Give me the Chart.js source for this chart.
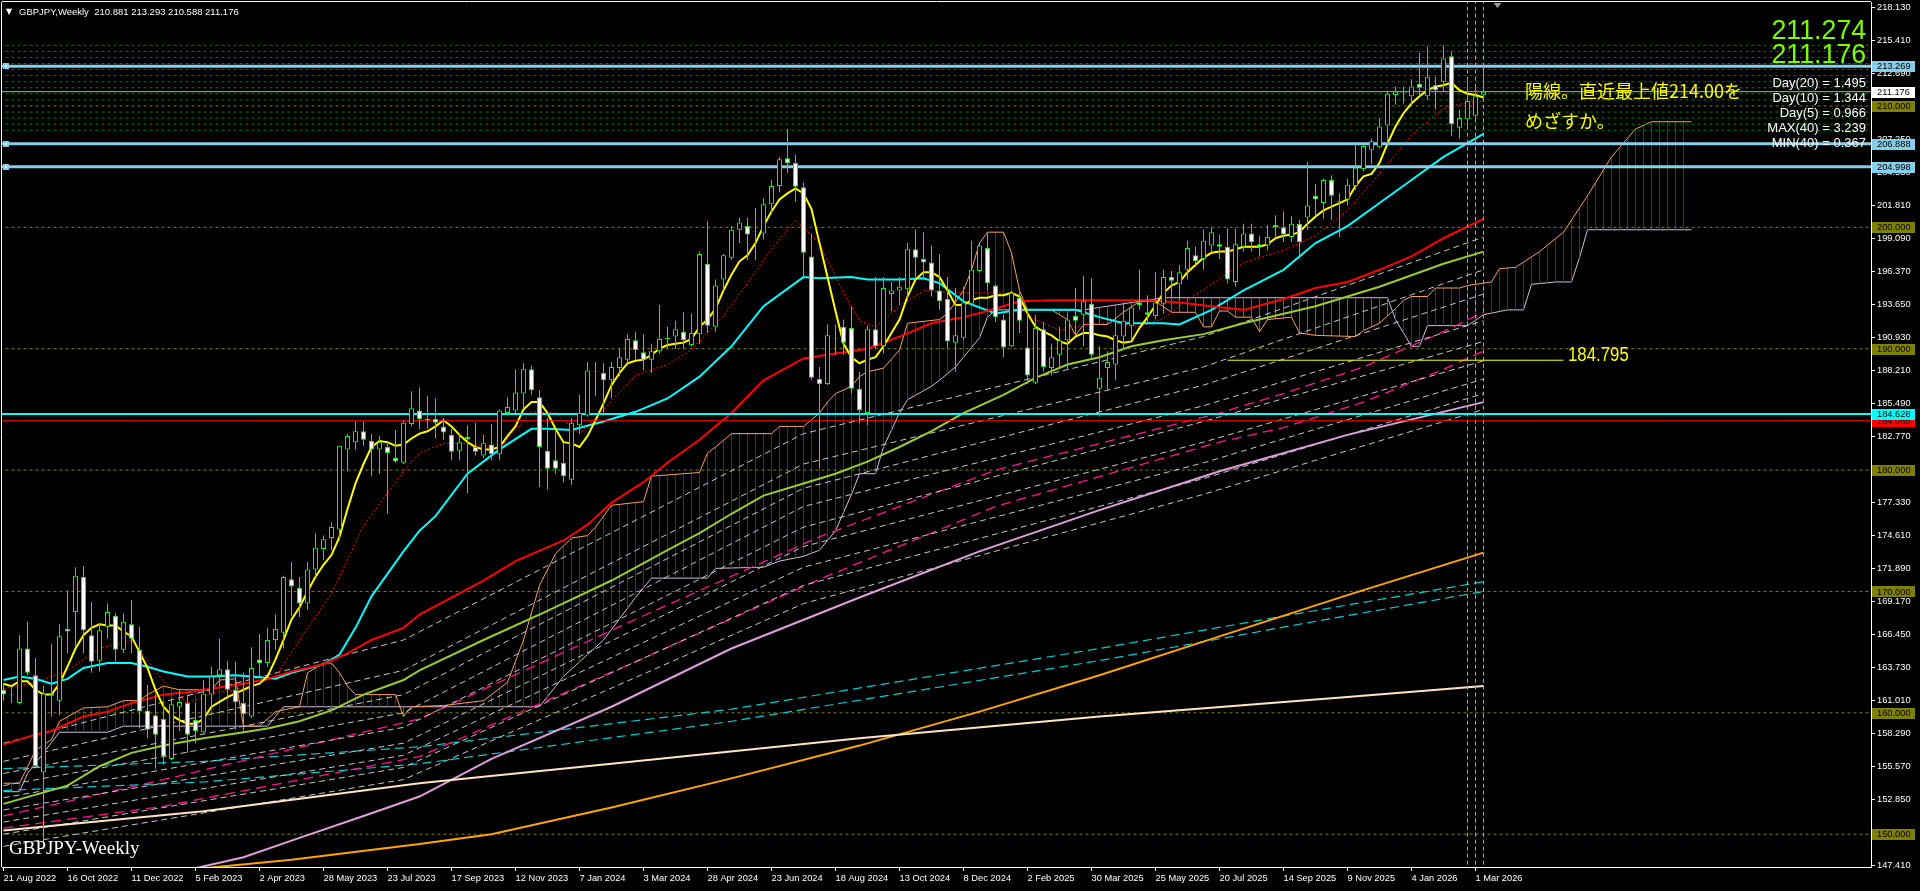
<!DOCTYPE html>
<html><head><meta charset="utf-8">
<script src="https://cdn.jsdelivr.net/npm/chart.js@4.4.0/dist/chart.umd.min.js"></script>
<style>
html,body{margin:0;padding:0;background:#000;width:1920px;height:891px;overflow:hidden;}
#wrap{position:relative;width:1920px;height:891px;}
canvas{position:absolute;left:0;top:0;}
.t{position:absolute;white-space:pre;font-family:"Liberation Sans",Arial,sans-serif;}
</style></head><body>
<div id="wrap">
<canvas id="c" width="1920" height="891"></canvas>
<div class="t" style="left:6px;top:6px;font-size:8px;line-height:11px;color:#fff;font-family:'DejaVu Sans';">▼</div>
<div class="t" style="left:19px;top:6px;font-size:9.5px;line-height:11px;color:#fff;">GBPJPY,Weekly  210.881 213.293 210.588 211.176</div>
<div class="t" style="right:54px;top:16px;font-size:28px;line-height:28px;color:#7cfc00;transform:scaleX(0.955);transform-origin:right;">211.274</div>
<div class="t" style="right:54px;top:40px;font-size:28px;line-height:28px;color:#7cfc00;transform:scaleX(0.955);transform-origin:right;">211.176</div>
<div class="t" style="right:54px;top:75px;font-size:13px;line-height:15px;color:#fff;text-align:right;">Day(20) = 1.495</div>
<div class="t" style="right:54px;top:90px;font-size:13px;line-height:15px;color:#fff;text-align:right;">Day(10) = 1.344</div>
<div class="t" style="right:54px;top:105px;font-size:13px;line-height:15px;color:#fff;text-align:right;">Day(5) = 0.966</div>
<div class="t" style="right:54px;top:120px;font-size:13px;line-height:15px;color:#fff;text-align:right;">MAX(40) = 3.239</div>
<div class="t" style="right:54px;top:135px;font-size:13px;line-height:15px;color:#fff;text-align:right;">MIN(40) = 0.367</div>
<div class="t" style="left:1525px;top:81px;font-size:18px;line-height:18px;color:#ffff00;font-family:'Noto Sans CJK JP';">陽線。直近最上値214.00を</div>
<div class="t" style="left:1525px;top:111px;font-size:18px;line-height:18px;color:#ffff00;font-family:'Noto Sans CJK JP';">めざすか。</div>
<div class="t" style="left:1568px;top:344px;font-size:20px;line-height:20px;color:#ffff00;transform:scaleX(0.84);transform-origin:left;">184.795</div>
<div class="t" style="left:9px;top:838px;font-size:19px;line-height:20px;color:#fff;font-family:'Liberation Serif',serif;">GBPJPY-Weekly</div>
</div>
<script>
// ---------------- DATA ----------------
const xTickBars = [0,8,16,24,32,40,48,56,64,72,80,88,96,104,112,120,128,136,144,152,160,168,176,184];
const xTickLabels = ['21 Aug 2022','16 Oct 2022','11 Dec 2022','5 Feb 2023','2 Apr 2023','28 May 2023','23 Jul 2023','17 Sep 2023','12 Nov 2023','7 Jan 2024','3 Mar 2024','28 Apr 2024','23 Jun 2024','18 Aug 2024','13 Oct 2024','8 Dec 2024','2 Feb 2025','30 Mar 2025','25 May 2025','20 Jul 2025','14 Sep 2025','9 Nov 2025','4 Jan 2026','1 Mar 2026'];
const yTicks = [218.13,215.41,212.69,209.97,207.25,204.53,201.81,199.09,196.37,193.65,190.93,188.21,185.49,182.77,180.05,177.33,174.61,171.89,169.17,166.45,163.73,161.01,158.29,155.57,152.85,150.13,147.41];

const opens = [
161.9,161.5,160.8,165.3,163.1,155.1,161.6,161.0,166.9,168.3,
171.2,166.4,164.3,167.1,168.0,165.2,167.3,165.2,160.2,159.8,
159.5,156.2,160.5,160.8,159.4,158.4,161.5,163.1,163.6,161.9,
160.8,159.7,164.4,164.1,166.0,166.6,171.0,170.3,169.0,171.8,
173.5,174.4,175.1,181.7,182.3,183.2,182.4,181.7,181.9,181.0,
180.6,183.8,184.9,184.2,184.2,183.6,182.9,181.6,182.75,181.9,
181.2,182.1,181.3,184.7,184.9,186.3,188.3,186.0,181.6,180.8,
180.6,179.2,183.7,184.5,188.1,188.0,187.4,188.4,189.1,190.7,
189.7,189.1,189.8,190.8,191.0,191.4,190.3,191.2,197.0,191.8,
195.7,197.5,199.8,200.1,199.6,199.5,201.9,203.4,205.7,205.3,
203.3,197.6,187.5,187.1,190.8,191.8,191.7,186.7,184.7,191.6,
190.2,194.5,194.8,194.9,198.2,197.4,197.1,194.8,194.1,190.5,
190.9,193.7,196.4,198.3,195.2,192.4,190.2,194.2,190.1,187.2,
191.6,188.4,189.5,190.7,192.7,192.8,193.7,186.7,188.4,188.7,
191.0,191.9,193.8,193.0,192.7,193.7,195.9,195.3,196.5,197.7,
197.4,198.5,198.6,198.4,195.5,198.4,199.5,198.6,198.5,200.2,
200.0,199.2,200.3,200.8,202.6,202.0,203.9,202.2,202.3,203.4,
204.8,206.4,206.6,208.4,210.9,211.1,210.8,211.8,210.8,211.7,
212.0,214.1,208.2,208.9,209.2,210.881];
const highs = [
162.4,162.2,166.4,167.5,164.5,162.2,165.7,167.3,170.1,172.0,
172.1,169.1,167.4,169.0,168.2,168.2,169.3,167.1,162.3,161.5,
160.8,161.2,161.9,161.5,160.8,162.7,163.8,166.1,164.3,164.2,
163.3,165.4,166.5,167.0,168.1,171.3,172.4,171.2,172.4,174.8,
174.6,175.7,182.0,183.0,184.0,184.0,183.0,182.8,182.3,183.3,
184.1,186.5,186.8,186.1,185.9,184.3,183.4,183.0,183.7,183.9,
182.9,183.8,185.0,186.0,188.3,188.8,188.6,186.6,184.3,183.3,
182.2,184.3,186.2,188.9,188.9,188.8,188.9,190.0,191.2,191.4,
191.2,190.4,193.6,191.8,192.3,193.0,192.9,198.0,200.5,195.7,
197.8,200.1,200.8,200.8,201.6,202.4,203.9,205.8,208.1,206.0,
203.7,199.5,188.5,192.0,192.0,192.4,193.5,188.1,191.9,195.9,
195.9,195.5,195.9,198.7,199.8,199.6,198.5,197.8,195.9,195.0,
195.1,198.9,198.8,199.5,195.3,192.8,194.8,194.6,193.0,192.8,
192.2,190.4,191.8,192.9,195.0,196.0,195.8,190.2,189.8,192.5,
193.8,193.5,196.5,194.4,196.3,196.5,196.4,196.9,198.9,198.4,
199.8,200.0,199.4,199.9,199.9,200.3,200.3,199.3,200.2,201.0,
201.3,200.9,200.6,205.4,203.6,204.0,204.3,202.8,204.0,206.9,
206.8,207.3,209.0,211.2,211.6,211.6,212.2,214.4,214.9,212.4,
215.0,214.5,209.7,212.1,211.7,213.293];
const lows = [
161.0,160.8,160.7,163.1,155.5,148.8,159.7,159.8,164.9,165.5,
164.9,163.3,163.4,166.1,164.2,164.9,164.9,158.7,157.9,155.4,
155.7,156.1,158.5,156.7,157.5,158.3,160.5,162.2,161.3,158.6,
158.3,159.6,163.0,163.8,165.2,165.3,168.0,167.9,168.5,171.2,
172.6,173.4,174.2,179.9,181.7,182.0,179.5,179.7,176.4,180.6,
180.5,183.6,183.4,183.4,182.6,182.5,180.8,180.8,178.1,181.2,
181.0,180.8,180.8,184.5,184.7,185.0,186.2,178.6,178.4,179.7,
179.0,178.8,183.0,184.4,186.1,184.5,185.9,187.7,188.8,189.1,
188.2,188.0,189.6,190.0,190.0,190.0,190.2,190.4,191.3,191.4,
194.8,197.3,198.7,197.3,197.3,199.0,201.2,202.9,204.5,202.1,
195.9,187.4,180.1,187.0,189.5,189.5,186.3,183.9,183.7,190.0,
189.6,193.1,193.6,194.0,195.9,195.7,194.3,193.2,190.0,188.1,
190.7,193.6,196.3,194.8,192.2,189.3,190.1,191.3,187.1,187.1,
188.1,187.8,188.4,188.3,191.1,190.2,189.1,184.4,186.6,187.4,
189.9,190.7,193.2,192.1,192.4,192.9,194.2,194.0,195.7,196.9,
196.5,197.9,197.4,195.4,195.1,198.0,198.0,197.6,198.1,199.1,
198.8,198.8,197.5,199.8,200.9,200.7,200.6,199.2,201.8,203.1,
204.6,205.2,206.5,206.8,210.1,210.2,210.1,210.8,210.5,209.7,
211.2,207.5,207.3,208.1,208.8,210.588];
const closes = [
161.5,161.45,165.3,163.3,155.6,161.6,161.4,166.3,166.7,171.3,
166.8,164.2,166.8,168.3,165.2,167.5,166.1,160.1,158.6,158.2,
156.4,160.7,160.9,158.2,158.5,161.6,163.0,163.6,161.9,160.9,
159.9,163.7,164.1,166.0,166.9,171.2,170.4,169.0,171.8,173.6,
174.3,175.3,182.0,182.8,183.2,182.5,181.7,182.3,181.4,180.7,
183.9,185.1,184.2,184.1,183.9,183.1,181.5,182.3,182.55,181.5,
182.2,181.3,184.9,185.2,186.4,188.3,186.6,181.9,180.1,180.1,
179.5,183.9,184.7,188.2,188.15,187.4,188.5,189.3,190.8,189.9,
189.1,189.8,190.8,190.9,191.6,190.7,191.3,197.8,191.9,195.2,
197.7,199.8,200.4,199.4,199.65,201.9,203.4,205.6,205.3,203.35,
197.9,187.6,187.1,191.1,190.85,190.5,186.7,184.9,191.6,190.2,
195.0,194.8,195.1,198.2,197.5,197.1,194.8,193.9,190.6,191.1,
193.8,196.5,198.5,195.4,192.6,190.1,194.6,192.3,187.8,191.7,
188.5,189.3,190.7,192.4,192.3,193.9,189.5,187.6,188.9,191.1,
192.3,193.4,193.6,192.8,193.8,195.9,195.6,196.3,198.3,197.2,
198.9,199.6,198.4,195.7,198.6,199.5,198.8,198.4,199.2,200.0,
199.4,200.3,198.8,201.8,202.3,203.9,202.6,202.1,203.5,204.9,
206.7,207.1,208.3,211.0,211.2,211.15,211.6,211.5,212.4,211.3,
213.9,208.5,209.0,210.4,210.8,211.176];

const maYellow = [
162.4,162.2,162.6,162.6,161.9,161.5,161.5,162.4,163.8,165.3,
166.4,167.0,167.3,167.2,167.2,166.7,166.3,165.0,163.7,161.9,
160.5,159.8,159.4,159.1,159.1,159.5,160.5,160.9,161.3,161.6,
161.9,162.2,162.4,163.0,164.4,166.0,167.7,168.7,170.0,171.2,
172.2,173.0,174.5,176.8,178.9,180.5,181.9,182.4,182.3,182.0,
182.1,182.6,183.0,183.2,183.6,184.1,183.6,182.9,182.3,181.9,
181.7,181.7,181.9,182.8,183.6,185.0,185.6,185.6,184.7,183.4,
182.3,182.2,181.9,182.8,184.1,185.5,187.0,188.0,188.8,189.0,
189.1,189.5,190.0,190.3,190.4,190.5,190.8,191.8,192.4,193.3,
194.8,196.1,197.2,197.7,198.7,200.1,201.3,202.3,202.8,203.2,
202.8,201.5,198.7,195.9,193.1,190.4,189.3,188.8,189.1,189.3,
190.2,191.3,192.4,194.3,195.7,196.3,196.3,195.9,194.8,193.6,
193.6,194.0,194.2,194.2,194.4,194.4,194.6,194.3,192.9,191.8,
191.4,191.1,190.6,190.4,191.0,191.3,191.3,191.1,191.0,190.7,
190.5,190.6,191.7,192.6,193.6,194.6,195.2,195.5,196.3,196.9,
197.5,197.9,198.0,198.0,198.2,198.4,198.4,198.4,198.6,199.1,
199.3,199.4,199.6,200.3,200.9,201.4,201.7,202.0,202.3,203.4,
204.2,204.4,205.3,206.9,208.3,209.4,210.2,210.8,211.3,211.6,
211.7,211.9,211.3,211.0,210.9,210.7];

const maRedDot = [[0,162.0],[4,162.5],[8,163.5],[12,165.3],[16,166.0],[18,164.3],[20,162.6],[23,160.8],[26,161.6],[29,161.9],[31,162.2],[34,163.0],[37,166.0],[41,169.8],[45,175.4],[50,179.9],[52,181.4],[55,182.2],[58,182.2],[62,181.8],[66,184.8],[69,184.7],[72,183.0],[75,185.0],[79,187.8],[83,188.7],[86,189.9],[90,192.7],[93,195.4],[96,198.2],[99,200.6],[102,198.7],[105,194.6],[107,192.3],[109,191.8],[112,193.5],[115,194.8],[119,194.6],[122,194.6],[125,194.6],[129,192.4],[132,191.5],[136,192.1],[139,192.1],[142,191.8],[145,192.5],[148,194.0],[151,195.3],[155,197.1],[160,198.1],[164,199.3],[168,201.4],[172,204.4],[176,207.6],[180,209.8],[183,210.3],[185,210.4]];
const maCyan = [[0,162.7],[2,163.0],[4,162.8],[6,162.4],[8,162.8],[10,163.7],[13,164.1],[16,164.1],[18,163.8],[20,163.4],[23,163.0],[26,163.0],[29,163.1],[31,163.0],[34,162.8],[36,163.3],[40,164.0],[42,164.8],[44,167.0],[46,169.6],[50,173.3],[52,175.0],[54,176.2],[58,179.7],[62,181.7],[66,183.4],[68,183.4],[71,183.3],[75,184.0],[79,184.8],[83,185.9],[87,187.7],[91,190.2],[95,193.5],[100,195.9],[102,195.8],[106,195.9],[108,195.7],[112,195.7],[115,195.8],[117,195.4],[120,193.9],[124,192.9],[127,193.2],[131,193.2],[134,193.2],[137,192.6],[140,192.1],[145,192.1],[147,192.0],[151,193.2],[155,194.8],[160,196.5],[164,198.7],[168,200.1],[172,202.0],[176,203.9],[180,205.8],[185,207.7]];
const maRed = [[0,157.4],[4,158.2],[6,158.5],[8,159.1],[10,159.7],[13,160.1],[16,160.8],[20,161.5],[23,161.7],[26,162.0],[30,162.4],[33,162.8],[36,163.4],[40,164.0],[43,164.9],[46,166.0],[50,167.0],[52,168.1],[56,169.5],[60,170.9],[64,172.5],[70,174.2],[73,175.5],[76,177.3],[80,179.0],[83,180.6],[87,182.5],[91,184.7],[95,187.4],[100,189.2],[104,189.6],[108,190.0],[112,191.0],[116,192.1],[120,192.6],[123,193.1],[127,193.9],[131,194.0],[143,194.0],[147,193.8],[151,193.5],[155,193.2],[160,194.1],[164,195.0],[168,195.5],[172,196.5],[176,197.6],[180,199.1],[185,200.7]];
const maYellowGreen = [[0,152.5],[8,154.0],[12,155.6],[16,156.7],[20,157.3],[25,157.9],[29,158.3],[33,158.7],[37,159.3],[41,160.2],[45,161.5],[50,162.7],[52,163.5],[60,166.0],[68,168.4],[76,170.9],[83,173.4],[87,174.8],[91,176.4],[95,177.9],[100,178.9],[104,179.7],[108,180.7],[112,181.9],[116,183.2],[120,184.7],[125,186.2],[129,187.6],[133,188.7],[137,189.3],[141,190.2],[145,190.7],[150,191.2],[155,192.1],[164,193.5],[172,195.1],[180,197.0],[185,198.0]];
const maPlum = [[22,146.9],[30,148.1],[37,149.7],[45,151.5],[52,153.1],[61,156.2],[76,160.5],[91,165.3],[107,169.5],[122,173.3],[137,176.7],[152,179.9],[168,182.9],[185,185.6]];
const maOrange = [[22,147.0],[36,147.9],[52,149.2],[61,150.0],[76,152.2],[91,154.6],[107,157.3],[122,160.1],[137,163.1],[152,166.3],[168,169.7],[185,173.2]];
const maBisque = [[0,150.3],[25,151.9],[52,154.2],[76,155.8],[107,157.9],[137,159.7],[168,161.3],[185,162.2]];
const cyanDashA = [[0,155.4],[25,156.0],[52,157.2],[91,160.3],[137,165.3],[162,168.2],[185,170.8]];
const cyanDashB = [[0,153.6],[25,154.3],[52,155.8],[91,159.3],[137,164.3],[162,167.3],[185,170.0]];
const pinkDashA = [[0,151.5],[20,154.5],[52,159.5],[80,168.0],[102,174.5],[124,180.0],[152,184.7],[160,186.3],[170,188.5],[180,191.4],[185,193.0]];
const pinkDashB = [[0,150.5],[20,152.3],[52,156.4],[80,164.5],[102,171.0],[124,177.0],[152,182.3],[160,183.5],[170,185.6],[180,188.3],[185,189.8]];
const envBars = [0,50,100,150,185];
const envLines = [
 [157.5,166.0,183.0,191.0,199.2],
 [156.0,163.5,180.5,188.5,196.5],
 [155.0,161.5,178.5,187.0,194.5],
 [154.0,160.0,177.0,185.3,192.3],
 [153.0,158.8,175.3,184.0,190.6],
 [152.0,157.5,173.7,182.3,189.0],
 [151.0,156.5,172.0,180.6,187.5],
 [150.0,155.5,170.5,179.3,186.3],
 [149.0,154.5,169.0,178.0,185.0]];
const spanA = [[0,154.2],[2,154.2],[4,156.9],[6,157.8],[7,159.3],[10,160.4],[13,160.5],[15,161.0],[17,161.0],[18,161.5],[20,162.2],[22,161.9],[26,161.9],[27,162.7],[29,162.8],[30,158.9],[32,158.9],[34,160.1],[37,160.5],[38,163.3],[40,164.1],[41,164.1],[42,163.3],[43,162.2],[44,161.5],[49,161.5],[50,159.7],[51,160.5],[55,160.6],[60,161.0],[63,162.5],[65,166.0],[67,170.5],[69,173.1],[71,174.4],[73,174.6],[74,175.3],[76,177.1],[80,177.4],[81,179.5],[85,179.7],[87,179.8],[88,181.4],[89,181.9],[91,183.0],[96,183.0],[97,183.6],[100,183.6],[102,184.7],[103,185.6],[104,186.3],[106,186.9],[107,187.7],[108,188.1],[110,188.4],[112,189.9],[113,192.1],[117,192.4],[118,192.9],[120,194.8],[121,196.5],[122,198.7],[123,199.6],[125,199.6],[126,197.9],[127,194.8],[128,193.2],[131,193.2],[133,192.4],[134,191.1],[135,192.0],[138,192.0],[140,193.0],[142,193.9],[144,193.9],[146,193.0],[149,193.0],[150,191.8],[151,191.8],[152,193.1],[153,193.1],[154,192.6],[156,192.6],[157,191.4],[158,192.4],[161,192.6],[162,191.3],[164,191.1],[169,191.0],[170,191.5],[172,192.1],[174,193.3],[175,194.0],[176,194.3],[178,194.3],[179,195.0],[182,195.0],[183,195.2],[186,195.5],[187,196.6],[189,196.7],[192,198.0],[195,199.6],[198,202.6],[201,205.8],[204,208.1],[206,208.7],[211,208.7]];
const spanB = [[0,153.5],[2,153.5],[3,155.0],[5,156.7],[7,158.4],[13,158.4],[15,158.9],[33,158.9],[34,159.7],[35,160.5],[67,160.5],[70,163.0],[75,166.0],[79,169.5],[81,171.1],[88,171.1],[89,171.9],[95,172.0],[97,172.5],[100,172.9],[102,173.4],[104,175.0],[106,178.0],[107,179.7],[109,179.7],[110,181.9],[112,184.7],[113,185.8],[116,186.9],[117,187.4],[119,188.5],[120,189.3],[122,190.9],[123,192.6],[124,193.2],[135,193.2],[145,194.2],[173,194.2],[174,192.4],[176,190.2],[177,190.2],[178,191.9],[183,191.9],[185,192.8],[188,193.2],[190,193.2],[191,195.3],[194,195.5],[196,195.5],[197,197.5],[198,199.8],[211,199.8]];

const roundLevels = [150,160,170,180,190,200,210];
const gridLevels = [208,208.5,209,209.5,210.5,211,211.5,212,212.5,213,213.5,214,214.5,215];
const zoneLevels = [213.269,206.888,204.998];
const supportLevel = 184.628;
const lowLevel = 184.065;
const bidPrice = 211.176;
const targetPrice = 189.05;
const targetBars = [153,195];
const separatorBars = [183,184,185];
const axisMarks = [150,160,170,180,184.065,184.628,190,200,204.998,206.888,210,211.176,213.269];

// ---------------- CHART ----------------
const canvas = document.getElementById('c');
const ctx = canvas.getContext('2d');
const X_MIN = -0.1875, X_MAX = 233.4375, Y_MIN = 147.297, Y_MAX = 218.565;
const FONT = '"Liberation Sans", Arial, sans-serif';

function hatch(color){
  const p = document.createElement('canvas'); p.width = 8; p.height = 4;
  const g = p.getContext('2d'); g.fillStyle = color; g.fillRect(3,0,1,4);
  return ctx.createPattern(p,'repeat');
}
const blueHatch = hatch('#2a2aa6');
const redHatch = hatch('#b8402c');

const pts = pairs => pairs.map(p => ({x:p[0], y:p[1]}));
const lineDs = (data, color, width, dash, order, extra) => Object.assign({
  type:'line', data, borderColor:color, borderWidth:width, borderDash:dash||[],
  pointRadius:0, tension:0, fill:false, order
}, extra||{});
const hLine = (v, color, width, dash, order) => lineDs([{x:-2,y:v},{x:240,y:v}], color, width, dash, order);

const datasets = [];
datasets.push({type:'bar', data: opens.map((o,i)=>({x:i, y:[o, closes[i]]})),
  backgroundColor: opens.map((o,i)=> closes[i] >= o ? '#000000' : '#ffffff'),
  borderColor:'#00ff00', borderWidth:1, borderSkipped:false, barThickness:5, grouped:false, inflateAmount:0, order:0});
datasets.push({type:'bar', data: lows.map((l,i)=>({x:i, y:[l, highs[i]]})),
  backgroundColor:'#00ff00', borderWidth:0, barThickness:1, grouped:false, inflateAmount:0, order:1});
datasets.push(lineDs(pts(spanA), '#f4a460', 1, [], 9, {fill:{target:'+1', above:blueHatch, below:redHatch}}));
datasets.push(lineDs(pts(spanB), '#d8bfd8', 1, [], 9));
roundLevels.forEach(v => datasets.push(hLine(v, '#808000', 1, [3,3], 8)));
gridLevels.forEach(v => datasets.push(hLine(v, '#007a00', 1, [3,3], 8)));
envLines.forEach(arr => datasets.push(lineDs(arr.map((v,k)=>({x:envBars[k], y:v})), '#c8c8c8', 1, [6,4], 7)));
datasets.push(lineDs(pts(pinkDashA), '#ff1493', 1.3, [10,6], 7));
datasets.push(lineDs(pts(pinkDashB), '#ff1493', 1.3, [10,6], 7));
datasets.push(lineDs(pts(cyanDashA), '#00ced1', 1.2, [9,5], 7));
datasets.push(lineDs(pts(cyanDashB), '#00ced1', 1.2, [9,5], 7));
datasets.push(lineDs(pts(maBisque), '#ffe4c4', 2, [], 5));
datasets.push(lineDs(pts(maOrange), '#ffa500', 2, [], 5));
datasets.push(lineDs(pts(maPlum), '#dda0dd', 2, [], 5));
datasets.push(lineDs(pts(maYellowGreen), '#9acd32', 2, [], 5));
datasets.push(lineDs(pts(maRed), '#ff0000', 2, [], 5));
datasets.push(lineDs(pts(maCyan), '#00ffff', 2, [], 5));
datasets.push(lineDs(pts(maRedDot), '#ff0000', 1, [2,2], 5));
datasets.push(lineDs(maYellow.map((v,i)=>({x:i,y:v})), '#ffff00', 2, [], 4));
datasets.push(hLine(bidPrice, '#b0b0b0', 1, [], 4));
zoneLevels.forEach(v => datasets.push(hLine(v, '#87ceeb', 3, [], 3)));
datasets.push(hLine(lowLevel, '#ff0000', 1, [], 3));
datasets.push(hLine(supportLevel, '#00ffff', 2, [], 3));
datasets.push(lineDs(targetBars.map(b=>({x:b, y:targetPrice})), '#ffff00', 1, [], 3));
separatorBars.forEach(b => datasets.push(lineDs([{x:b,y:Y_MIN-5},{x:b,y:Y_MAX+5}], '#a8a8a8', 1, [4,3], 3)));

const markStyle = {150:'o',160:'o',170:'o',180:'o',190:'o',200:'o',210:'o',
  184.065:'r',184.628:'c',204.998:'b',206.888:'b',211.176:'w',213.269:'b'};
const markBg = {o:'#808000', r:'#ff0000', c:'#00ffff', b:'#87ceeb', w:'#ffffff'};

const framePlugin = {
  id:'frame',
  beforeDraw(chart){ const c = chart.ctx; c.save(); c.fillStyle = '#000'; c.fillRect(0,0,chart.width,chart.height); c.restore(); },
  afterDraw(chart){
    const c = chart.ctx, a = chart.chartArea, ys = chart.scales.y;
    c.save();
    c.strokeStyle = '#ffffff'; c.lineWidth = 1;
    c.beginPath();
    c.moveTo(a.left, a.top - 0.5); c.lineTo(a.right, a.top - 0.5);
    c.moveTo(a.left - 0.5, a.top); c.lineTo(a.left - 0.5, a.bottom);
    c.stroke();
    c.font = '9.3px ' + FONT; c.textBaseline = 'middle'; c.textAlign = 'left';
    axisMarks.forEach(v => {
      const y = ys.getPixelForValue(v);
      const s = markStyle[v];
      c.fillStyle = markBg[s];
      c.fillRect(a.right + 1, Math.round(y) - 5, 43, 11);
      c.fillStyle = '#000';
      c.fillText(v.toFixed(3), a.right + 6, y + 0.5);
    });
    zoneLevels.forEach(v => {
      const y = Math.round(ys.getPixelForValue(v));
      c.fillStyle = '#87ceeb'; c.fillRect(a.left + 1, y - 3, 6, 6);
      c.fillStyle = '#ffffff'; c.fillRect(a.left + 3, y - 1, 2, 2);
    });
    const sx = chart.scales.x.getPixelForValue(186.75);
    c.fillStyle = '#9a9a9a';
    c.beginPath(); c.moveTo(sx - 4, a.top + 1); c.lineTo(sx + 4, a.top + 1); c.lineTo(sx, a.top + 6); c.closePath(); c.fill();
    c.restore();
  }
};

new Chart(ctx, {
  type:'line',
  data:{datasets},
  options:{
    responsive:false, animation:false, devicePixelRatio:1, events:[],
    layout:{padding:{left:2, top:2, right:0, bottom:0}},
    plugins:{legend:{display:false}, tooltip:{enabled:false}},
    scales:{
      x:{type:'linear', position:'bottom', min:X_MIN, max:X_MAX, offset:false, bounds:'data', grace:0,
        afterBuildTicks: s => { s.ticks = xTickBars.map(v => ({value:v})); },
        afterFit: s => { s.height = 24; s.paddingLeft = 0; s.paddingRight = 0; },
        ticks:{color:'#ffffff', font:{family:FONT, size:9.3}, align:'start', padding:2, maxRotation:0, autoSkip:false,
          callback: v => { const k = xTickBars.indexOf(v); return k >= 0 ? xTickLabels[k] : ''; }},
        grid:{display:true, offset:false, drawOnChartArea:false, drawTicks:true, tickLength:4, color:'#ffffff', lineWidth:1},
        border:{display:true, color:'#ffffff', width:1}
      },
      y:{type:'linear', position:'right', min:Y_MIN, max:Y_MAX, beginAtZero:false,
        afterBuildTicks: s => { s.ticks = yTicks.map(v => ({value:v})); },
        afterFit: s => { s.width = 49; s.paddingTop = 0; s.paddingBottom = 0; },
        ticks:{color:'#ffffff', font:{family:FONT, size:9.3}, padding:2, autoSkip:false,
          callback: v => Number(v).toFixed(3)},
        grid:{display:true, drawOnChartArea:false, drawTicks:true, tickLength:4, color:'#ffffff', lineWidth:1},
        border:{display:true, color:'#ffffff', width:1}
      }
    }
  },
  plugins:[framePlugin]
});
</script>
</body></html>
